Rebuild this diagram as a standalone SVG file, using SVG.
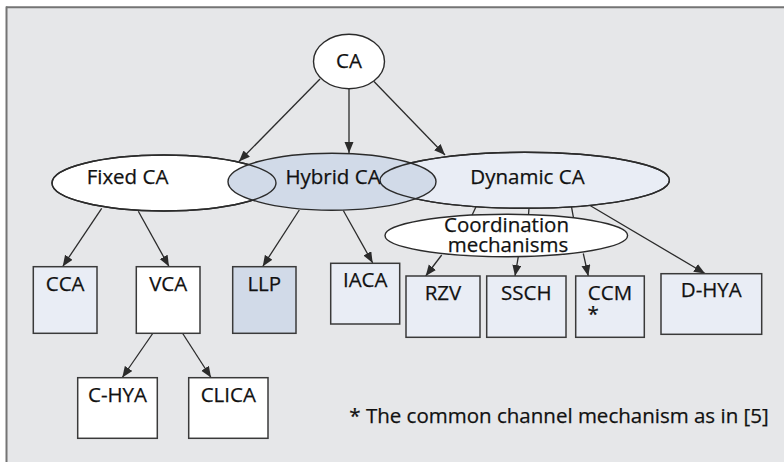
<svg xmlns="http://www.w3.org/2000/svg" width="784" height="462" viewBox="0 0 784 462">
<style>
text{font-family:"Open Sans","Liberation Sans",sans-serif;font-size:20.5px;fill:#111111;stroke:#111111;stroke-width:0.25;text-anchor:middle}
.n{stroke:#2b2b2b;stroke-width:1.4}
.b{stroke:#3a3a3a;stroke-width:1.5}
.w{fill:#ffffff}
.l{fill:#e9edf5}
.d{fill:#d1dae8}
.o{fill:none;stroke:#2b2b2b;stroke-width:1.4}
.c{stroke:#2b2b2b;stroke-width:1.3;fill:none}
.a{marker-end:url(#ah)}
</style>
<defs>
<marker id="ah" markerUnits="userSpaceOnUse" markerWidth="12" markerHeight="10" refX="11" refY="4.5" orient="auto">
<path d="M0,0 L11,4.5 L0,9 z" fill="#2b2b2b"/>
</marker>
</defs>
<rect x="0" y="0" width="784" height="462" fill="#ffffff"/>
<rect x="6" y="7" width="780" height="458" fill="#e6e7e9"/>
<line x1="6" y1="7.3" x2="784" y2="7.3" stroke="#747474" stroke-width="2"/>
<line x1="6.5" y1="6.5" x2="6.5" y2="462" stroke="#747474" stroke-width="2"/>

<g id="connectors">
<line class="c a" x1="320" y1="79" x2="239" y2="161.5"/>
<line class="c a" x1="349" y1="88.5" x2="349" y2="153"/>
<line class="c a" x1="374" y1="81.5" x2="445" y2="155"/>
<line class="c a" x1="101.7" y1="208.3" x2="62.7" y2="266.5"/>
<line class="c a" x1="138.3" y1="211.3" x2="169" y2="266.5"/>
<line class="c a" x1="299.3" y1="210" x2="262.7" y2="266.5"/>
<line class="c a" x1="343.3" y1="210.5" x2="372.7" y2="263"/>
<line class="c a" x1="590" y1="205.5" x2="705" y2="273.5"/>
<line class="c" x1="476" y1="206.7" x2="472" y2="215.2"/>
<line class="c" x1="529" y1="208.3" x2="528.5" y2="214.7"/>
<line class="c" x1="571.5" y1="206.9" x2="573.5" y2="217.9"/>
<line class="c a" x1="441.7" y1="255" x2="425.7" y2="276"/>
<line class="c a" x1="518.3" y1="256.7" x2="515" y2="276"/>
<line class="c a" x1="583.3" y1="253.5" x2="588.3" y2="276"/>
<line class="c a" x1="152.7" y1="333.5" x2="122.3" y2="377.5"/>
<line class="c a" x1="182.7" y1="333.5" x2="211" y2="377.5"/>
</g>

<g id="node-ca">
<ellipse class="n w" cx="349" cy="61.5" rx="35.5" ry="27.2"/>
<text x="349" y="68">CA</text>
</g>
<g id="node-fixed">
<ellipse class="n w" cx="164" cy="183" rx="112" ry="28"/>
</g>
<g id="node-dynamic">
<ellipse class="n l" cx="524.7" cy="180.3" rx="144.7" ry="28"/>
</g>
<g id="node-hybrid">
<ellipse class="n d" cx="332" cy="181.7" rx="104" ry="28.5"/>
</g>
<g id="outlines">
<ellipse class="o" cx="164" cy="183" rx="112" ry="28"/>
<ellipse class="o" cx="524.7" cy="180.3" rx="144.7" ry="28"/>
</g>
<g id="ellipse-labels">
<text x="127.5" y="184">Fixed CA</text>
<text x="333" y="184">Hybrid CA</text>
<text x="527.5" y="184">Dynamic CA</text>
</g>
<g id="node-coord">
<ellipse class="n w" cx="506.3" cy="235.5" rx="121.3" ry="21.2"/>
<text x="506.5" y="231.5">Coordination</text>
<text x="508" y="251.7">mechanisms</text>
</g>

<g id="node-cca">
<rect class="b l" x="33.3" y="266.7" width="63.7" height="66.6"/>
<text x="65.2" y="290.5">CCA</text>
</g>
<g id="node-vca">
<rect class="b w" x="136.3" y="266.7" width="63.7" height="66.6"/>
<text x="168.2" y="290.5">VCA</text>
</g>
<g id="node-llp">
<rect class="b d" x="232.7" y="266.7" width="63.3" height="66.6"/>
<text x="264.3" y="290.5">LLP</text>
</g>
<g id="node-iaca">
<rect class="b l" x="330.7" y="263.3" width="69" height="60.7"/>
<text x="365.2" y="286.7">IACA</text>
</g>
<g id="node-rzv">
<rect class="b l" x="406" y="276" width="74" height="61.3"/>
<text x="443" y="300">RZV</text>
</g>
<g id="node-ssch">
<rect class="b l" x="486.7" y="276" width="79.3" height="61.3"/>
<text x="526.3" y="300">SSCH</text>
</g>
<g id="node-ccm">
<rect class="b l" x="575.7" y="276" width="68.6" height="61.3"/>
<text x="610" y="300">CCM</text>
<text x="587.5" y="320.5" style="text-anchor:start">*</text>
</g>
<g id="node-dhya">
<rect class="b l" x="661" y="273.7" width="100.7" height="60.6"/>
<text x="711.3" y="297">D-HYA</text>
</g>
<g id="node-chya">
<rect class="b w" x="77.7" y="377.7" width="79.6" height="60.6"/>
<text x="117.5" y="401.7">C-HYA</text>
</g>
<g id="node-clica">
<rect class="b w" x="188.7" y="377.7" width="79.3" height="60.6"/>
<text x="228.3" y="401.7">CLICA</text>
</g>

<text x="349.3" y="423.3" style="text-anchor:start">* The common channel mechanism as in [5]</text>
</svg>
